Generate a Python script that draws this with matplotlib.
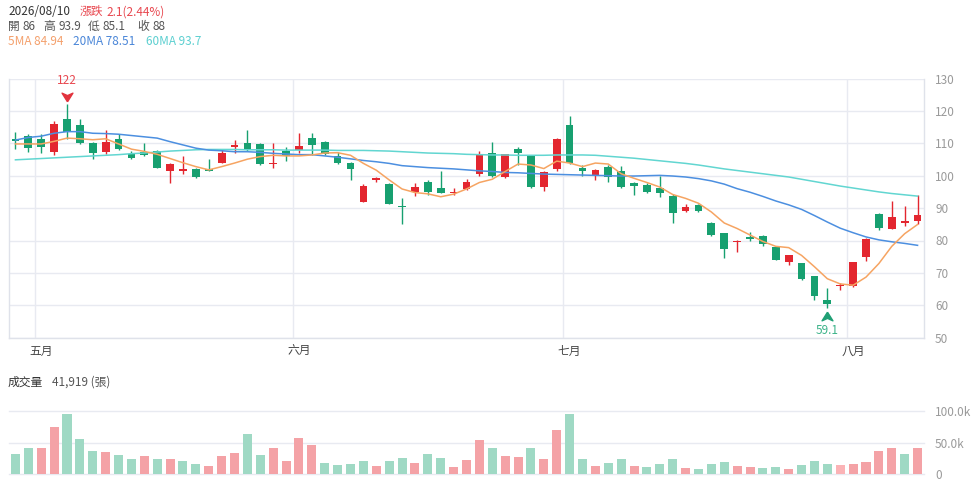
import matplotlib
matplotlib.use('Agg')
import matplotlib.pyplot as plt
from matplotlib.transforms import offset_copy
import numpy as np

plt.rcParams['font.family'] = ['Noto Sans CJK TC', 'DejaVu Sans']

# ---------------- data ----------------
last_date = "2026/08/10"
month_labels = ["五月", "六月", "七月", "八月"]
month_first_idx = [2, 22, 43, 65]

opens = [111.3, 112.3, 111.3, 107.2, 117.6, 115.6, 110.0, 107.4, 111.2, 106.6,
         107.2, 107.6, 101.4, 101.4, 102.1, 102.1, 104.0, 109.0, 110.0, 109.7,
         103.5, 107.6, 107.9, 111.5, 110.5, 106.1, 104.0, 92.0, 98.6, 97.3,
         90.7, 94.9, 98.2, 96.1, 94.8, 95.8, 100.4, 107.1, 99.6, 108.1,
         106.1, 96.6, 102.0, 115.5, 102.3, 100.0, 102.8, 101.6, 97.6, 97.1,
         96.3, 93.8, 89.1, 91.0, 85.3, 82.2, 79.4, 81.0, 81.3, 78.0,
         73.4, 73.0, 68.9, 61.7, 66.0, 66.0, 74.9, 88.3, 83.6, 85.3,
         86.0]
highs = [113.4, 112.8, 113.0, 117.0, 122.0, 117.5, 110.5, 114.1, 112.8, 107.6,
         110.0, 108.0, 103.9, 106.0, 102.5, 105.1, 108.1, 111.0, 114.1, 110.0,
         110.0, 109.0, 113.1, 113.1, 110.8, 107.4, 104.3, 97.4, 99.7, 97.7,
         93.0, 97.7, 98.7, 101.6, 96.1, 99.0, 107.6, 110.5, 106.8, 109.0,
         106.4, 101.5, 111.5, 118.5, 103.3, 102.0, 103.3, 103.0, 98.0, 97.7,
         100.0, 94.3, 91.4, 91.2, 85.8, 82.4, 80.2, 82.6, 81.8, 78.3,
         75.6, 73.2, 69.1, 65.3, 66.9, 73.5, 80.8, 88.5, 92.1, 90.7,
         93.9]
lows = [108.3, 107.2, 107.1, 106.4, 111.3, 109.8, 105.1, 106.7, 108.0, 105.1,
        106.1, 102.3, 97.6, 100.6, 99.2, 101.3, 103.8, 107.1, 107.7, 103.2,
        102.5, 104.6, 107.1, 106.4, 106.4, 103.5, 98.7, 91.8, 98.0, 91.2,
        85.1, 93.8, 94.1, 94.6, 94.1, 95.6, 99.9, 99.7, 99.4, 103.3,
        96.3, 95.4, 101.6, 103.5, 100.0, 98.7, 98.2, 96.3, 94.1, 94.6,
        93.4, 85.3, 88.9, 88.7, 81.4, 74.5, 76.6, 80.0, 78.4, 73.9,
        72.3, 67.9, 61.5, 59.1, 64.8, 65.8, 73.6, 83.3, 83.5, 84.4,
        85.1]
closes = [110.6, 108.5, 109.0, 116.1, 113.6, 110.0, 106.9, 110.5, 108.2, 105.6,
          106.4, 102.5, 103.6, 102.1, 99.5, 101.5, 107.1, 109.4, 107.9, 103.5,
          103.8, 106.1, 109.2, 109.5, 106.6, 104.0, 102.0, 96.9, 99.2, 91.4,
          90.2, 96.4, 94.9, 94.8, 95.1, 98.2, 106.6, 99.9, 106.6, 106.9,
          96.6, 101.1, 111.2, 103.8, 101.5, 101.7, 99.7, 96.5, 96.8, 94.9,
          94.6, 88.4, 90.4, 89.1, 81.7, 77.4, 79.8, 80.5, 79.0, 74.1,
          75.4, 68.1, 62.8, 60.4, 66.4, 73.3, 80.5, 83.8, 87.1, 85.9,
          88.0]
ma5 = [109.8, 109.8, 109.8, 110.6, 111.6, 111.4, 111.1, 111.4, 109.8, 108.2,
       107.5, 106.6, 105.3, 104.0, 102.8, 101.8, 102.8, 103.9, 105.1, 105.9,
       106.3, 106.1, 106.1, 106.4, 107.0, 107.1, 106.3, 103.8, 101.7, 98.7,
       95.9, 94.8, 94.4, 93.5, 94.3, 95.9, 97.9, 98.9, 101.3, 103.6,
       103.3, 102.2, 104.5, 103.9, 102.8, 103.9, 103.6, 100.6, 99.2, 97.9,
       96.5, 94.2, 93.0, 91.5, 88.8, 85.4, 83.7, 81.7, 79.7, 78.2,
       77.8, 75.4, 71.9, 68.2, 66.6, 66.2, 68.7, 72.9, 78.2, 82.1,
       84.94]
ma20 = [111.0, 111.8, 112.2, 113.1, 113.6, 113.6, 113.1, 113.0, 112.8, 112.4,
        112.0, 111.6, 110.5, 109.5, 108.5, 107.9, 107.7, 107.4, 107.4, 107.2,
        106.9, 106.7, 106.5, 106.5, 106.1, 105.7, 105.2, 104.7, 104.3, 103.8,
        103.1, 102.8, 102.5, 102.3, 102.1, 101.8, 101.5, 101.3, 101.0, 100.9,
        100.7, 100.5, 100.4, 100.3, 100.2, 100.1, 100.0, 99.9, 99.9, 100.0,
        100.1, 99.9, 99.6, 99.1, 98.4, 97.4, 96.0, 94.9, 93.6, 92.2,
        91.0, 89.6, 87.7, 85.7, 83.8, 82.4, 81.1, 80.2, 79.6, 79.1,
        78.51]
ma60 = [104.9, 105.1, 105.3, 105.5, 105.7, 105.9, 106.1, 106.3, 106.5, 106.8,
        107.0, 107.3, 107.6, 107.8, 108.0, 108.1, 108.1, 108.1, 108.0, 108.0,
        108.0, 107.9, 107.9, 107.9, 107.9, 107.8, 107.8, 107.8, 107.7, 107.6,
        107.4, 107.2, 107.0, 106.9, 106.8, 106.6, 106.5, 106.4, 106.4, 106.3,
        106.3, 106.3, 106.4, 106.4, 106.4, 106.3, 106.0, 105.7, 105.4, 105.0,
        104.6, 104.2, 103.8, 103.3, 102.7, 102.1, 101.6, 101.1, 100.6, 100.1,
        99.6, 98.9, 98.2, 97.5, 96.8, 96.2, 95.6, 95.0, 94.5, 94.1,
        93.7]
volumes = [31300, 41800, 40700, 75100, 94700, 55000, 37000, 35400, 29600, 23800,
           28600, 24300, 24300, 20600, 15900, 13200, 29100, 33900, 64000, 30200,
           40700, 21200, 57700, 46000, 17500, 14300, 16400, 20600, 13200, 20600,
           25900, 18000, 31300, 25900, 11600, 22200, 54000, 41800, 29100, 27500,
           41800, 23800, 69300, 94700, 23800, 13200, 17500, 23800, 13200, 10600,
           15900, 23800, 9000, 7900, 15900, 19000, 12700, 11100, 9000, 11100,
           8500, 14300, 21200, 16400, 14800, 15900, 19600, 36000, 41300, 31700,
           41919]
limit_up_idx = [64]

# ---------------- style ----------------
RED = '#e3262f'
GREEN = '#17a070'
VRED = '#f4a2a6'
VGREEN = '#9fd9c4'
VLIMIT = '#fbb3b6'
C5, C20, C60 = '#f6a462', '#4c8fe0', '#62d6d1'
GRID = '#e8eaf1'
AXIS = '#dfe2ea'

W, H = 977, 496
fig = plt.figure(figsize=(W / 100, H / 100), dpi=100)
fig.patch.set_facecolor('white')


def fx(px):
    return px / W


def fy(py):
    return 1 - py / H


ax = fig.add_axes([fx(9), fy(337.7), (924 - 9) / W, (337.7 - 78.5) / H])
axv = fig.add_axes([fx(9), fy(474), (924 - 9) / W, (474 - 411) / H])

n = len(closes)
x = np.arange(n)
o = np.array(opens)
c = np.array(closes)
hi = np.array(highs)
lo = np.array(lows)

cols = [RED if c[i] >= o[i] else GREEN for i in range(n)]

# grid
for yv in range(50, 131, 10):
    ax.axhline(yv, color=GRID, lw=1, zorder=0)
for m in month_first_idx:
    ax.axvline(m - 0.5, color=GRID, lw=1, zorder=0)

# wicks and bodies
ax.vlines(x, lo, hi, colors=cols, lw=1, zorder=2)
body_h = np.maximum(np.abs(c - o), 0.3)
body_b = np.minimum(o, c)
ax.bar(x, body_h, bottom=body_b, width=0.6, color=cols, linewidth=0, zorder=3)

# moving averages
ax.plot(x, ma60, color=C60, lw=1.1, zorder=4)
ax.plot(x, ma20, color=C20, lw=1.1, zorder=4)
ax.plot(x, ma5, color=C5, lw=1.1, zorder=4)

ax.set_xlim(-0.5, n - 0.5)
ax.set_ylim(50, 130)
ax.yaxis.tick_right()
ax.set_yticks(range(50, 131, 10))
ax.tick_params(axis='y', length=0, pad=8, labelcolor='#9a9a9a', labelsize=8.5)
ax.set_xticks(month_first_idx)
ax.set_xticklabels(month_labels)
ax.tick_params(axis='x', length=0, pad=5, labelcolor='#444444', labelsize=8.5)
for s in ['left', 'right', 'bottom']:
    ax.spines[s].set_color(AXIS)
    ax.spines[s].set_linewidth(1)
ax.spines['top'].set_visible(False)

# high / low markers
hi_i = int(np.argmax(hi))
lo_i = int(np.argmin(lo))
down_arrow = [(0, -0.8), (-1, 0.8), (0, 0.35), (1, 0.8), (0, -0.8)]
up_arrow = [(0, 0.8), (-1, -0.8), (0, -0.35), (1, -0.8), (0, 0.8)]
ax.plot(hi_i, hi[hi_i], marker=down_arrow, ms=7.8, color='#e2333d', linestyle='none',
        transform=offset_copy(ax.transData, fig=fig, y=7.8, units='dots'), clip_on=False, zorder=6)
ax.text(hi_i, hi[hi_i], f"{hi[hi_i]:g}", color='#e8474f', fontsize=8.5, ha='center', va='center',
        transform=offset_copy(ax.transData, fig=fig, y=23.5, units='dots'))
ax.plot(lo_i, lo[lo_i], marker=up_arrow, ms=7.8, color='#1f9f74', linestyle='none',
        transform=offset_copy(ax.transData, fig=fig, y=-7.6, units='dots'), clip_on=False, zorder=6)
ax.text(lo_i, lo[lo_i], f"{lo[lo_i]:g}", color='#3cb389', fontsize=8.5, ha='center', va='center',
        transform=offset_copy(ax.transData, fig=fig, y=-22, units='dots'))

# volume
vcols = []
for i in range(n):
    if i in limit_up_idx:
        vcols.append(VLIMIT)
    elif i == 0:
        vcols.append(VGREEN if c[i] < o[i] else VRED)
    else:
        vcols.append(VRED if c[i] >= c[i - 1] else VGREEN)
for yv in [0, 50000, 100000]:
    axv.axhline(yv, color=GRID, lw=1, zorder=0, clip_on=False)
axv.bar(x, volumes, width=0.7, color=vcols, linewidth=0, zorder=2)
axv.set_xlim(-0.5, n - 0.5)
axv.set_ylim(0, 100000)
axv.yaxis.tick_right()
axv.set_yticks([0, 50000, 100000])
axv.set_yticklabels(['0', '50.0k', '100.0k'])
axv.tick_params(axis='y', length=0, pad=8, labelcolor='#9a9a9a', labelsize=8.5)
axv.set_xticks([])
for s in axv.spines.values():
    s.set_visible(False)

# header texts
chg = closes[-1] - closes[-2]
pct = chg / closes[-2] * 100
fs = 8.5
fig.text(fx(8), fy(11.7), last_date, color='#333333', fontsize=fs, va='center')
fig.text(fx(80), fy(11.7), "漲跌", color='#e8474f', fontsize=fs, va='center')
fig.text(fx(106.7), fy(11.7), f"{chg:.1f}({pct:.2f}%)", color='#e8474f', fontsize=fs, va='center')

line2 = [("開", 8), (f"{opens[-1]:g}", 22.7), ("高", 43.3), (f"{highs[-1]:g}", 58.3),
         ("低", 87.3), (f"{lows[-1]:g}", 102.3), ("收", 137.3), (f"{closes[-1]:g}", 152.3)]
for t, px in line2:
    fig.text(fx(px), fy(26.7), t, color='#555555', fontsize=fs, va='center')

fig.text(fx(8), fy(41.7), f"5MA {ma5[-1]:.2f}", color='#f4a06c', fontsize=fs, va='center')
fig.text(fx(72.7), fy(41.7), f"20MA {ma20[-1]:.2f}", color='#4a86d8', fontsize=fs, va='center')
fig.text(fx(145.7), fy(41.7), f"60MA {ma60[-1]:g}", color='#5bcfd0', fontsize=fs, va='center')

fig.text(fx(8), fy(382), "成交量", color='#333333', fontsize=fs, va='center')
fig.text(fx(51.7), fy(382), f"{volumes[-1]:,} (張)", color='#555555', fontsize=fs, va='center')

fig.savefig('out.png', dpi=100, facecolor='white')
